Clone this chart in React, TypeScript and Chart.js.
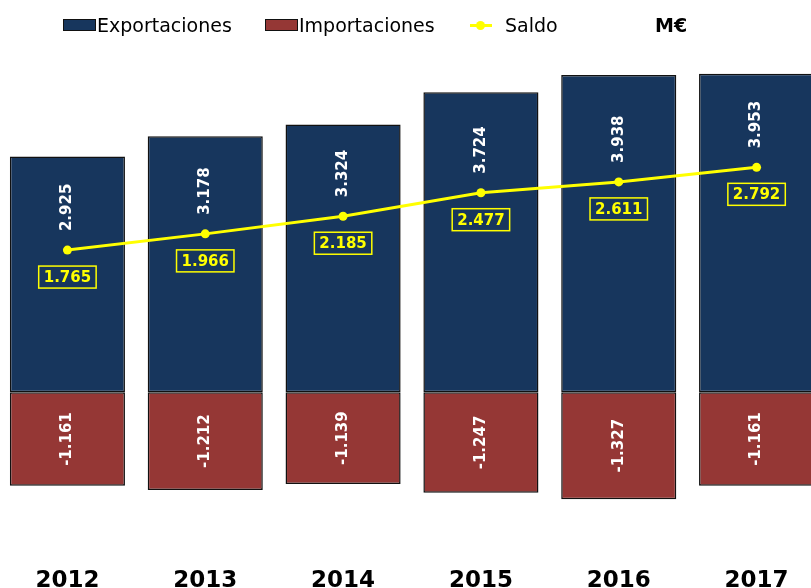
import React, { useEffect, useRef } from "react";
import { Chart, registerables } from "chart.js";

Chart.register(...registerables);

const years = ["2012", "2013", "2014", "2015", "2016", "2017"];
const exportaciones = [2925, 3178, 3324, 3724, 3938, 3953];
const importaciones = [-1161, -1212, -1139, -1247, -1327, -1161];
const saldo = [1765, 1966, 2185, 2477, 2611, 2792];

const NAVY = "#17365D";
const RED = "#953735";
const YELLOW = "#FFFF00";

const fmt = (v: number) => {
  const neg = v < 0;
  const a = Math.abs(v);
  const s = a >= 1000 ? Math.floor(a / 1000) + "." + String(a % 1000).padStart(3, "0") : String(a);
  return (neg ? "-" : "") + s;
};

const labelPlugin = {
  id: "labelPlugin",
  afterDatasetsDraw(chart: any) {
    const ctx = chart.ctx;
    const x = chart.scales.x;
    const y = chart.scales.y;
    ctx.save();
    ctx.font = "bold 15px 'DejaVu Sans'";
    ctx.textBaseline = "middle";
    exportaciones.forEach((v, i) => {
      const px = x.getPixelForValue(i);
      const py = y.getPixelForValue(saldo[i]) - 19;
      ctx.save();
      ctx.translate(px, py);
      ctx.rotate(-Math.PI / 2);
      ctx.textAlign = "left";
      ctx.fillStyle = "#ffffff";
      ctx.fillText(fmt(v), 0, 0);
      ctx.restore();
    });
    ctx.textAlign = "center";
    importaciones.forEach((v, i) => {
      const px = x.getPixelForValue(i);
      const py = y.getPixelForValue(v / 2);
      ctx.save();
      ctx.translate(px, py);
      ctx.rotate(-Math.PI / 2);
      ctx.fillStyle = "#ffffff";
      ctx.fillText(fmt(v), 0, 0);
      ctx.restore();
    });
    saldo.forEach((v, i) => {
      const px = x.getPixelForValue(i);
      const py = y.getPixelForValue(v) + 27;
      const t = fmt(v);
      const w = ctx.measureText(t).width + 10;
      const h = 22;
      ctx.strokeStyle = YELLOW;
      ctx.lineWidth = 1.5;
      ctx.strokeRect(px - w / 2, py - h / 2, w, h);
      ctx.fillStyle = YELLOW;
      ctx.fillText(t, px, py + 1);
    });
    ctx.restore();
  },
};

export default function App() {
  const ref = useRef<HTMLCanvasElement>(null);
  useEffect(() => {
    if (!ref.current) return;
    const chart = new Chart(ref.current, {
      type: "bar",
      data: {
        labels: years,
        datasets: [
          {
            type: "line" as const,
            label: "Saldo",
            data: saldo,
            borderColor: YELLOW,
            backgroundColor: YELLOW,
            borderWidth: 3,
            pointRadius: 4.5,
            pointBackgroundColor: YELLOW,
            pointBorderWidth: 0,
            order: 0,
          },
          {
            label: "Exportaciones",
            data: exportaciones,
            backgroundColor: NAVY,
            borderColor: "#111111",
            borderWidth: 1.5,
            borderSkipped: false,
            order: 1,
          },
          {
            label: "Importaciones",
            data: importaciones,
            backgroundColor: RED,
            borderColor: "#111111",
            borderWidth: 1.5,
            borderSkipped: false,
            order: 1,
          },
        ],
      },
      options: {
        animation: false,
        responsive: false,
        maintainAspectRatio: false,
        layout: { padding: { top: 70, left: 0, right: 0, bottom: 0 } },
        plugins: { legend: { display: false }, tooltip: { enabled: false } },
        datasets: { bar: { categoryPercentage: 1, barPercentage: 0.835 } },
        scales: {
          x: {
            stacked: true,
            grid: { display: false },
            border: { display: false },
            ticks: { color: "#000", font: { family: "'DejaVu Sans'", size: 23, weight: "bold" }, padding: 6 },
          },
          y: {
            display: false,
            min: -2000,
            max: 4000,
          },
        },
      },
      plugins: [labelPlugin],
    });
    return () => chart.destroy();
  }, []);

  const legendText: React.CSSProperties = {
    position: "absolute",
    top: 13,
    fontFamily: "'DejaVu Sans'",
    fontSize: 19,
    color: "#000",
    lineHeight: "24px",
    whiteSpace: "nowrap",
  };
  const box = (left: number, color: string): React.CSSProperties => ({
    position: "absolute",
    left,
    top: 19,
    width: 31,
    height: 10,
    background: color,
    border: "1px solid #111",
  });

  return (
    <div style={{ position: "fixed", left: 0, top: 0, width: 811, height: 588, overflow: "hidden", background: "#fff" }}>
      <canvas ref={ref} width={836} height={601} style={{ position: "absolute", left: -6, top: 0, width: 836, height: 601 }} />
      <div style={box(63, NAVY)} />
      <div style={{ ...legendText, left: 97 }}>Exportaciones</div>
      <div style={box(265, RED)} />
      <div style={{ ...legendText, left: 299 }}>Importaciones</div>
      <div style={{ position: "absolute", left: 470, top: 24, width: 22, height: 3, background: YELLOW }} />
      <div style={{ position: "absolute", left: 476, top: 21, width: 9, height: 9, borderRadius: "50%", background: YELLOW }} />
      <div style={{ ...legendText, left: 505 }}>Saldo</div>
      <div style={{ ...legendText, left: 655, fontWeight: "bold" }}>M€</div>
    </div>
  );
}
